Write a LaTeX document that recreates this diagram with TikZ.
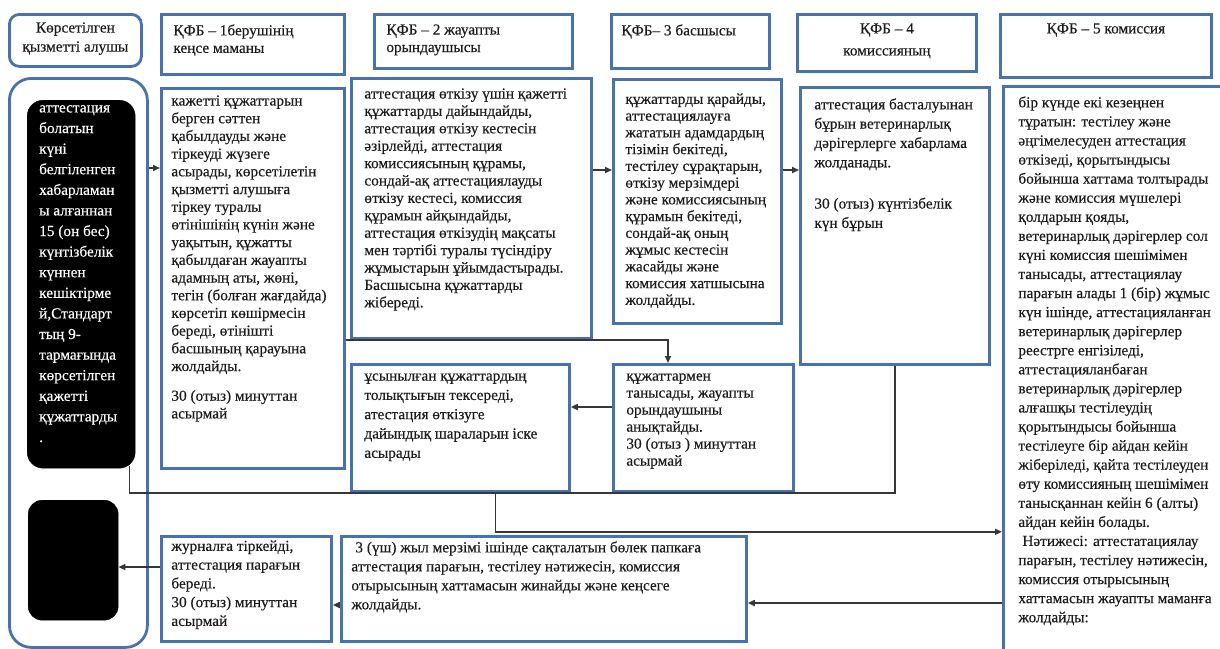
\documentclass[tikz,border=0pt]{standalone}
\usepackage{fontspec}
\setmainfont{Liberation Serif}[FakeBold=0.35]
\usetikzlibrary{positioning,calc,arrows.meta}
\definecolor{boxblue}{RGB}{72,114,174}
\definecolor{inkgray}{RGB}{28,28,28}
\definecolor{linegray}{RGB}{55,55,55}

\begin{document}
\begin{tikzpicture}[
    x=1pt, y=-1pt,
    stage/.style n args={4}{draw=boxblue, line width=2.8pt, anchor=north west, inner sep=0pt, text=inkgray,
        font=\fontsize{15.3}{17.5}\selectfont,
        execute at begin node={\begin{minipage}[t][#2][t]{#1}\raggedright\leftskip=#4\relax\vspace*{#3}},
        execute at end node={\end{minipage}}},
    blackbox/.style={fill=black, draw=black, rounded corners=16pt, anchor=north west, inner sep=0pt, text=white},
    flow/.style={-{Triangle[length=7pt,width=6pt]}, line width=1.6pt, draw=linegray},
    link/.style={line width=1.6pt, draw=linegray}
]
\path[use as bounding box, fill=white] (0,0) rectangle (1220,648);

% header row
\node[stage={132pt}{52pt}{8pt}{0pt}, rounded corners=10pt, font=\fontsize{15.3}{19}\selectfont] (h0) at (8,13) {\centering Көрсетілген\\қызметті алушы\par};
\node[stage={183pt}{60pt}{10pt}{12pt}] (h1) at (160,13) {ҚФБ – 1берушінің\\кеңсе маманы};
\node[stage={198pt}{54pt}{10pt}{12pt}] (h2) at (373,13) {ҚФБ – 2 жауапты\\орындаушысы};
\node[stage={158pt}{54pt}{10pt}{10pt}] (h3) at (610,13) {ҚФБ– 3 басшысы};
\node[stage={179pt}{57pt}{9pt}{0pt}, font=\fontsize{15.3}{22}\selectfont] (h4) at (796,13) {\centering ҚФБ – 4\\комиссияның\par};
\node[stage={211pt}{63pt}{9pt}{0pt}] (h5) at (999,13) {\centering ҚФБ – 5 комиссия\par};

% service recipient
\node[draw=boxblue, line width=2.8pt, rounded corners=22pt, anchor=north west, inner sep=0pt,
      minimum width=138pt, minimum height=569pt] (b0) at (8,77) {};
\node[blackbox, font=\fontsize{15.3}{20.6}\selectfont] (k1) at (27,100)
    {\begin{minipage}[t][368pt][t]{108pt}\leftskip=12pt\vspace*{5pt}%
     аттестация\\болатын\\күні\\белгіленген\\хабарламан\\ы алғаннан\\15 (он бес)\\күнтізбелік\\күннен\\кешіктірме\\й,Стандарт\\тың 9-\\тармағында\\көрсетілген\\қажетті\\құжаттарды\\.\end{minipage}};
\node[blackbox, rounded corners=14pt, minimum width=90pt, minimum height=120pt] (k2) at (28,500) {};

% process steps
\node[stage={183pt}{380pt}{7pt}{10pt}, font=\fontsize{15.3}{17.7}\selectfont] (b1) at (160,87)
    {кажетті құжаттарын\\берген сәттен\\қабылдауды және\\тіркеуді жүзеге\\асырады, көрсетілетін\\қызметті алушыға\\тіркеу туралы\\өтінішінің күнін  және\\уақытын, құжатты\\қабылдаған жауапты\\адамның  аты, жөні,\\тегін (болған жағдайда)\\көрсетіп көшірмесін\\береді, өтінішті\\басшының қарауына\\жолдайды.\\[12pt]30 (отыз) минуттан\\асырмай};
\node[stage={240pt}{260pt}{10pt}{13pt}, font=\fontsize{15.3}{17.4}\selectfont] (b2) at (350,77)
    {аттестация өткізу үшін қажетті\\құжаттарды дайындайды,\\аттестация өткізу кестесін\\әзірлейді, аттестация\\комиссиясының құрамы,\\сондай-ақ аттестациялауды\\өткізу кестесі, комиссия\\құрамын айқындайды,\\аттестация өткізудің мақсаты\\мен тәртібі туралы түсіндіру\\жұмыстарын ұйымдастырады.\\Басшысына құжаттарды\\жібереді.};
\node[stage={168pt}{244pt}{14pt}{12pt}, font=\fontsize{15.3}{16.75}\selectfont] (b3) at (612,78)
    {құжаттарды қарайды,\\аттестациялауға\\жататын адамдардың\\тізімін бекітеді,\\тестілеу сұрақтарын,\\өткізу мерзімдері\\және комиссиясының\\құрамын бекітеді,\\сондай-ақ оның\\жұмыс кестесін\\жасайды және\\комиссия хатшысына\\жолдайды.};
\node[stage={189pt}{277pt}{11pt}{14pt}, font=\fontsize{15.3}{19.3}\selectfont] (b4) at (799,86)
    {аттестация басталуынан\\бұрын ветеринарлық\\дәрігерлерге хабарлама\\жолданады.\\[22pt]30 (отыз) күнтізбелік\\күн бұрын};
\node[stage={225pt}{580pt}{10pt}{15pt}, font=\fontsize{15.3}{19.07}\selectfont] (b5) at (1002,85)
    {бір күнде екі кезеңнен\\тұратын: тестілеу және\\әңгімелесуден аттестация\\өткізеді, қорытындысы\\бойынша хаттама толтырады\\және комиссия мүшелері\\қолдарын қояды,\\ветеринарлық дәрігерлер сол\\күні комиссия шешімімен\\танысады, аттестациялау\\парағын алады 1 (бір) жұмыс\\күн ішінде, аттестацияланған\\ветеринарлық дәрігерлер\\реестрге енгізіледі,\\аттестацияланбаған\\ветеринарлық  дәрігерлер\\алғашқы тестілеудің\\қорытындысы бойынша\\тестілеуге бір айдан кейін\\жіберіледі, қайта тестілеуден\\өту  комиссияның шешімімен\\танысқаннан кейін 6 (алты)\\айдан кейін болады.\\\hspace*{4pt}Нәтижесі: аттестатациялау\\парағын, тестілеу нәтижесін,\\комиссия отырысының\\хаттамасын жауапты маманға\\жолдайды:};
\node[stage={218pt}{127pt}{9pt}{13pt}, font=\fontsize{15.3}{19.3}\selectfont] (b6) at (350,363)
    {ұсынылған  құжаттардың\\толықтығын тексереді,\\атестация өткізуге\\дайындық  шараларын іске\\асырады};
\node[stage={180pt}{127pt}{9pt}{13pt}, font=\fontsize{15.3}{17}\selectfont] (b7) at (612,363)
    {құжаттармен\\танысады,  жауапты\\орындаушыны\\анықтайды.\\30 (отыз ) минуттан\\асырмай};
\node[stage={170pt}{105pt}{4pt}{10pt}, font=\fontsize{15.3}{18.75}\selectfont] (b9) at (160,535)
    {журналға тіркейді,\\аттестация парағын\\береді.\\30 (отыз) минуттан\\асырмай};
\node[stage={405pt}{105pt}{5pt}{10pt}, font=\fontsize{15.3}{19}\selectfont] (b10) at (340,535)
    {\hspace*{4pt}3 (үш) жыл мерзімі ішінде сақталатын бөлек  папкаға\\аттестация парағын,  тестілеу нәтижесін, комиссия\\отырысының хаттамасын жинайды және  кеңсеге\\жолдайды.};

% connectors
\coordinate (a1) at ($(b1.north west)+(0,81)$);
\coordinate (a2) at ($(b3.north west)+(0,92)$);
\coordinate (a3) at ($(b4.north west)+(0,84)$);
\coordinate (j1) at ($(b7.north west)+(56,0)$);
\coordinate (a5) at ($(b7.north west)+(0,44)$);
\coordinate (j6) at ($(k1.south east)+(-6,-2)$);
\coordinate (j7) at ($(b6.south)+(35,39)$);
\coordinate (a8) at ($(b10.north east)+(0,68)$);
\coordinate (a9) at ($(b10.north west)+(0,70)$);
\coordinate (a10) at ($(b9.north west)+(0,32)$);

\draw[flow] (b0.east |- a1) -- (a1);
\draw[flow] (b2.east |- a2) -- (a2);
\draw[flow] (b3.east |- a3) -- (a3);
\draw[flow] (b1.east |- b2.south) -- (j1 |- b2.south) -- (j1);
\draw[flow] (a5) -- (b6.east |- a5);
\draw[link] (b4.south) -- (b4.south |- b7.south) -| (j6);
\draw[flow] (b6.south -| j7) -- (j7) -- (b5.west |- j7);
\draw[flow] (b5.west |- a8) -- (b10.east |- a8);
\draw[flow] (a9) -- (b9.east |- a9);
\draw[flow] (a10) -- (k2.east |- a10);

\end{tikzpicture}
\end{document}
